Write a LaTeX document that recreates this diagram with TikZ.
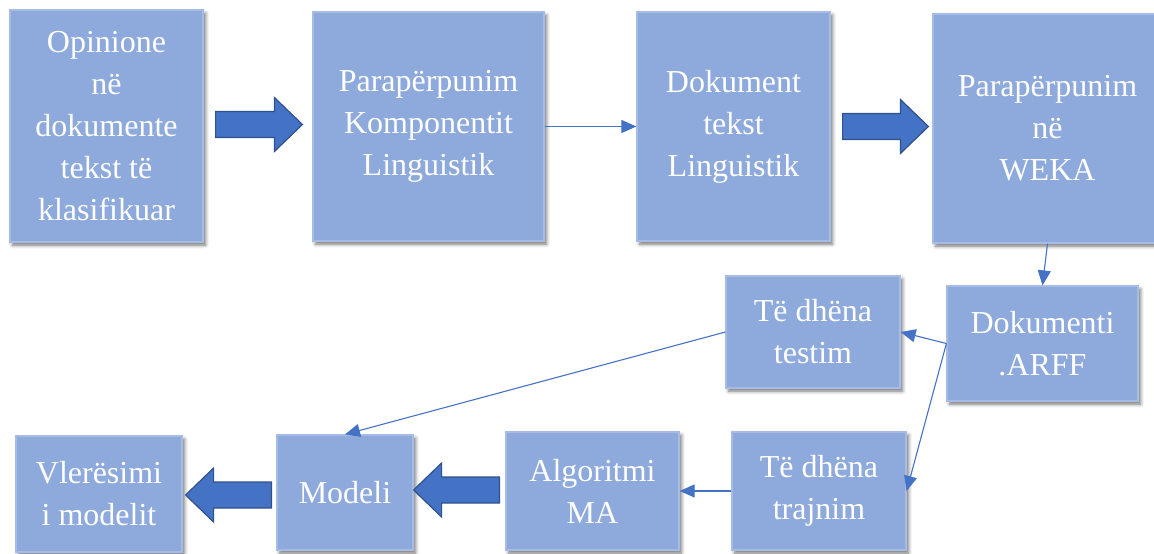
\documentclass[tikz,border=0pt]{standalone}
\usepackage{fontspec}
\setmainfont{Liberation Serif}
\newfontfamily\boxfont{Liberation Serif}
\usetikzlibrary{arrows.meta,calc,shadows.blur}

\definecolor{boxfill}{HTML}{8EA9DB}
\definecolor{boxedge}{HTML}{A6BCE4}
\definecolor{linkblue}{HTML}{4472C4}
\definecolor{fatedge}{HTML}{2F528F}

\tikzset{
  procbox/.style={
    rectangle, fill=boxfill, draw=boxedge, line width=1.2pt,
    text=white, align=center, inner sep=0pt,
    font=\boxfont\fontsize{32}{42}\selectfont,
    blur shadow={shadow xshift=2.5pt, shadow yshift=-3pt,
                 shadow blur radius=3.5pt, shadow opacity=55}
  },
  link/.style={draw=linkblue, line width=1.1pt,
    -{Triangle[length=15pt,width=13pt]}, fill=none},
  fatarrowstyle/.style={fill=linkblue, draw=fatedge, line width=1.2pt,
    line join=miter}
}

% thick block arrow from tail point #1 to tip point #2 (horizontal)
\newcommand\fatarrow[2]{%
  \draw[fatarrowstyle] let \p1=(#1), \p2=(#2),
      \n1={(\x2-\x1)/abs(\x2-\x1)} in
    (\x1,{\y1+13pt}) -- ({\x2-\n1*28pt},{\y1+13pt}) --
    ({\x2-\n1*28pt},{\y1+27pt}) -- (\x2,\y1) --
    ({\x2-\n1*28pt},{\y1-27pt}) -- ({\x2-\n1*28pt},{\y1-13pt}) --
    (\x1,{\y1-13pt}) -- cycle;}

\begin{document}
\begin{tikzpicture}[x=1pt,y=-1pt]
\useasboundingbox (0,0) rectangle (1154,554);

% top row
\node[procbox, minimum width=193pt, minimum height=232pt] (b1) at (106.5,126)
  {Opinione\\në\\dokumente\\tekst të\\klasifikuar};
\node[procbox, minimum width=231pt, minimum height=229pt] (b2) at (428.5,126.5)
  {Parapërpunim\\Komponentit\\Linguistik};
\node[procbox, minimum width=193pt, minimum height=229pt] (b3) at (733.5,126.5)
  {Dokument\\tekst\\Linguistik};
\node[procbox, minimum width=229pt, minimum height=229pt] (b4) at (1047.5,128.5)
  {Parapërpunim\\në\\WEKA};

% middle row
\node[procbox, minimum width=191pt, minimum height=115pt] (b5) at (1042.5,343.5)
  {Dokumenti\\.ARFF};
\node[procbox, minimum width=174pt, minimum height=112pt] (b6) at (813,332)
  {Të dhëna\\testim};

% bottom row
\node[procbox, minimum width=174pt, minimum height=118pt] (b7) at (819,491)
  {Të dhëna\\trajnim};
\node[procbox, minimum width=173pt, minimum height=118pt] (b8) at (592.5,491)
  {Algoritmi\\MA};
\node[procbox, minimum width=136pt, minimum height=115pt] (b9) at (345,492.5)
  {Modeli};
\node[procbox, minimum width=166pt, minimum height=116pt] (b10) at (99,494)
  {Vlerësimi\\i modelit};

% thin connectors
\draw[link] (b2.east) -- (b3.west);
\draw[link] (b4.south) -- (b5.north);
\draw[link] (b5.west) -- (b6.east);
\draw[link] (b5.west) -- (b7.east);
\draw[link] (b6.west) -- (b9.north);
\draw[link] (b7.west) -- (b8.east);

% block arrows
\fatarrow{$(b1.east)+(12,-1.5)$}{$(b2.west)+(-10,-2)$}
\fatarrow{$(b3.east)+(12,0)$}{$(b4.west)+(-4,-2)$}
\fatarrow{$(b9.west)+(-5,2.5)$}{$(b10.east)+(3,1)$}
\fatarrow{$(b8.west)+(-6,-1)$}{$(b9.east)+(0,-2.5)$}
\end{tikzpicture}
\end{document}
